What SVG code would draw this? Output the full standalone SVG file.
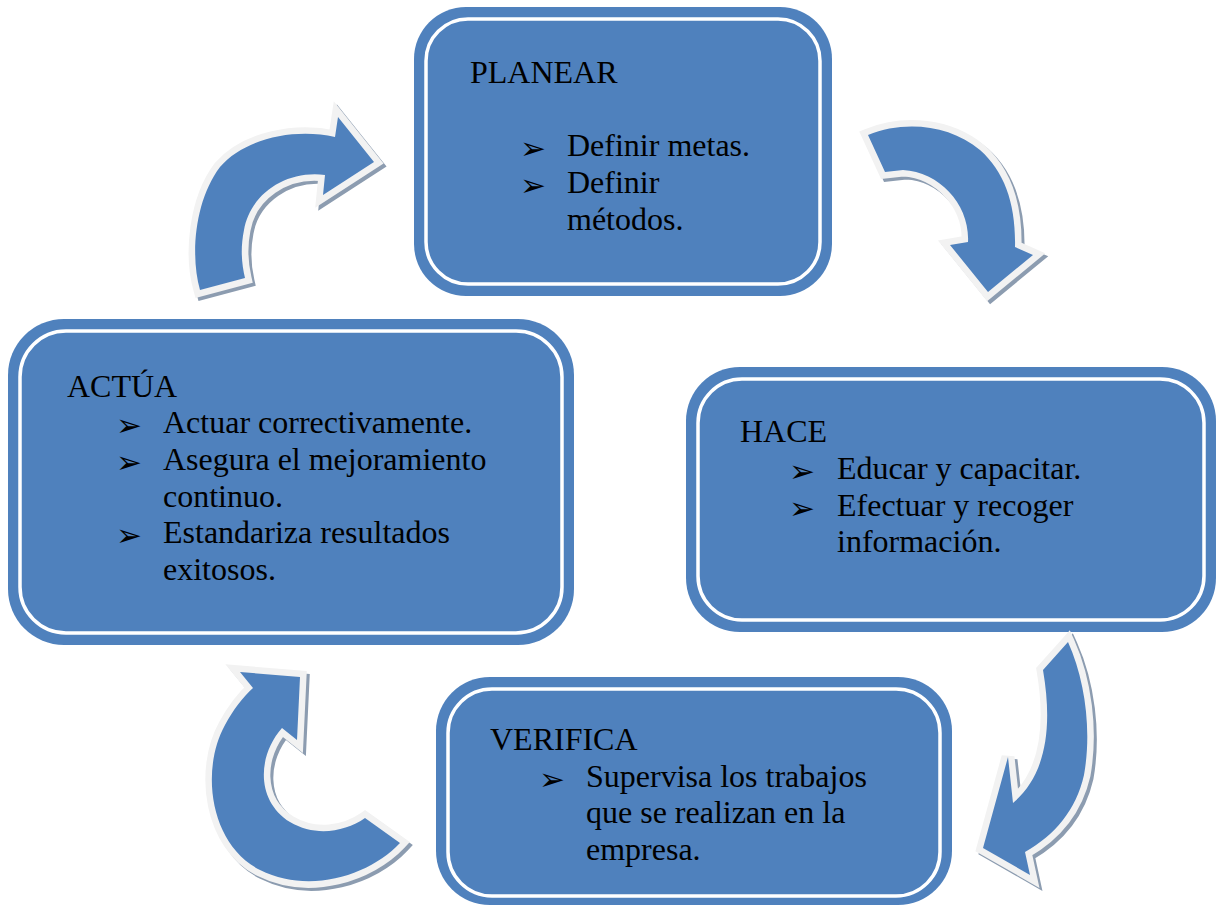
<svg xmlns="http://www.w3.org/2000/svg" width="1220" height="907" viewBox="0 0 1220 907">
<style>
.box{fill:#4F81BD;}
.inner{fill:none;stroke:#FFFFFF;stroke-width:3.5;}
.t{font-family:"Liberation Serif","Times New Roman",serif;font-size:32px;fill:#000000;}
.b{font-family:"DejaVu Sans",sans-serif;font-size:31px;fill:#000000;}
.shadow{fill:#8C9CB0;stroke:#8C9CB0;stroke-width:13;stroke-linejoin:miter;}
.outline{fill:#F2F2F2;stroke:#F2F2F2;stroke-width:13;stroke-linejoin:miter;}
.fill{fill:#4F81BD;}
</style>
<defs>
<path id="a1" d="M200 290 C190 255 195 200 220 167 C245 138 295 128 335 137 L338 117 L374 162 L323 195 L325 175 C285 170 250 195 244 230 C240 250 242 265 245 278 Z"/>
<path id="a2" d="M868 135 C905 120 950 125 980 150 C1005 172 1016 205 1015 247 L1033 255 L988 292 L950 245 L968 242 C970 205 940 172 903 170 L885 172 Z"/>
<path id="a3" d="M1068 642 C1085 680 1092 730 1084 775 C1076 810 1055 835 1025 852 L1030 875 L983 848 L1008 757 L1013 803 C1040 780 1055 740 1043 670 Z"/>
<path id="a4" d="M400 843 C370 875 310 895 260 870 C210 845 200 770 225 725 C233 710 243 697 253 688 L240 672 L300 677 L297 740 L282 728 C258 755 255 800 290 822 C315 837 345 832 365 818 Z"/>
</defs>

<g id="planear">
<rect class="box" x="414" y="7" width="418" height="289" rx="52"/>
<rect class="inner" x="426" y="19" width="394" height="265" rx="42"/>
<text class="t" x="470" y="83">PLANEAR</text>
<text class="b" x="520" y="159">➢</text>
<text class="t" x="567" y="156">Definir metas.</text>
<text class="b" x="520" y="196">➢</text>
<text class="t" x="567" y="193">Definir</text>
<text class="t" x="567" y="230">métodos.</text>
</g>

<g id="actua">
<rect class="box" x="8" y="319" width="566" height="326" rx="56"/>
<rect class="inner" x="20" y="331" width="542" height="302" rx="46"/>
<text class="t" x="67" y="397">ACTÚA</text>
<text class="b" x="116" y="436">➢</text>
<text class="t" x="163" y="433">Actuar correctivamente.</text>
<text class="b" x="116" y="473">➢</text>
<text class="t" x="163" y="470">Asegura el mejoramiento</text>
<text class="t" x="163" y="507">continuo.</text>
<text class="b" x="116" y="546">➢</text>
<text class="t" x="163" y="543">Estandariza resultados</text>
<text class="t" x="163" y="580">exitosos.</text>
</g>

<g id="hace">
<rect class="box" x="686" y="367" width="530" height="265" rx="54"/>
<rect class="inner" x="698" y="379" width="506" height="241" rx="44"/>
<text class="t" x="740" y="442">HACE</text>
<text class="b" x="789" y="482">➢</text>
<text class="t" x="837" y="479">Educar y capacitar.</text>
<text class="b" x="789" y="519">➢</text>
<text class="t" x="837" y="516">Efectuar y recoger</text>
<text class="t" x="837" y="552">información.</text>
</g>

<g id="verifica">
<rect class="box" x="436" y="677" width="516" height="228" rx="54"/>
<rect class="inner" x="448" y="689" width="492" height="207" rx="44"/>
<text class="t" x="490" y="750">VERIFICA</text>
<text class="b" x="539" y="790">➢</text>
<text class="t" x="586" y="787">Supervisa los trabajos</text>
<text class="t" x="586" y="823">que se realizan en la</text>
<text class="t" x="586" y="860">empresa.</text>
</g>

<g id="connectors">
<g id="arrow-actua-planear">
<use href="#a1" class="shadow" transform="translate(3,3)"/>
<use href="#a1" class="outline"/>
<use href="#a1" class="fill"/>
</g>
<g id="arrow-planear-hace">
<use href="#a2" class="shadow" transform="translate(3,3)"/>
<use href="#a2" class="outline"/>
<use href="#a2" class="fill"/>
</g>
<g id="arrow-hace-verifica">
<use href="#a3" class="shadow" transform="translate(3,3)"/>
<use href="#a3" class="outline"/>
<use href="#a3" class="fill"/>
</g>
<g id="arrow-verifica-actua">
<use href="#a4" class="shadow" transform="translate(3,3)"/>
<use href="#a4" class="outline"/>
<use href="#a4" class="fill"/>
</g>
</g>
</svg>
